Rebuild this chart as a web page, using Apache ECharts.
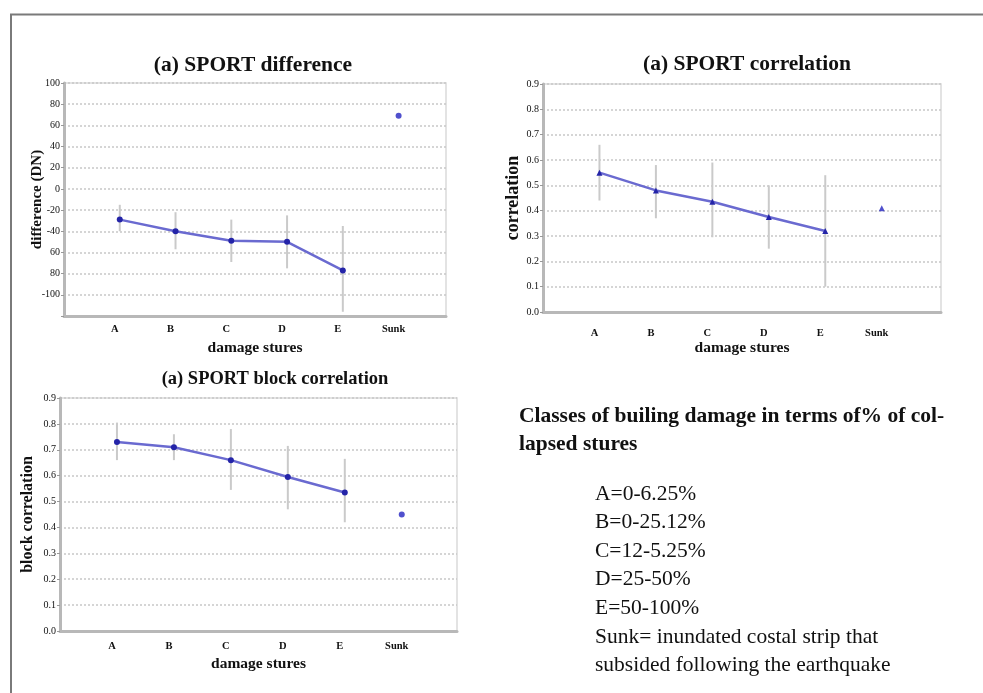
<!DOCTYPE html>
<html>
<head>
<meta charset="utf-8">
<script src="https://cdn.jsdelivr.net/npm/echarts@6/dist/echarts.min.js"></script>
<style>
  html, body { margin: 0; padding: 0; background: #fff; }
  #chart { width: 983px; height: 693px; }
</style>
</head>
<body>
<div id="chart"></div>
<script>
// categories on the x axis
var categories = ['A', 'B', 'C', 'D', 'E', 'Sunk'];

// (a) SPORT difference
var diffMean = [-29, -40, -49, -50, -77];
var diffLow = [-40, -57, -69, -75, -116];
var diffHigh = [-15, -22, -29, -25, -35];
var diffSunk = 69;
var diffTickLabels = ['100', '80', '60', '40', '20', '0', '-20', '-40', '60', '80', '-100'];

// (a) SPORT correlation
var corrMean = [0.55, 0.48, 0.435, 0.375, 0.32];
var corrLow = [0.44, 0.37, 0.295, 0.25, 0.10];
var corrHigh = [0.66, 0.58, 0.59, 0.50, 0.54];
var corrSunk = 0.41;

// (a) SPORT block correlation
var blockMean = [0.73, 0.71, 0.66, 0.595, 0.535];
var blockLow = [0.66, 0.66, 0.545, 0.47, 0.42];
var blockHigh = [0.805, 0.76, 0.78, 0.715, 0.665];
var blockSunk = 0.45;

var legendLines = [
  'A=0-6.25%',
  'B=0-25.12%',
  'C=12-5.25%',
  'D=25-50%',
  'E=50-100%',
  'Sunk= inundated costal strip that',
  'subsided following the earthquake'
];

var serif = '"Liberation Serif", "DejaVu Serif", serif';
var chart = echarts.init(document.getElementById('chart'));

function points(arr) {
  return arr.map(function (v, i) { return [i + 1, v]; });
}
function bars(low, high) {
  return low.map(function (v, i) { return [i + 1, v, high[i]]; });
}
function catLabel(v) {
  var i = Math.round(v);
  if (Math.abs(v - i) > 0.01 || i < 1 || i > categories.length) return '';
  return categories[i - 1];
}

function xAxis(idx, max, labelMargin, nameGap) {
  return {
    type: 'value', gridIndex: idx, min: 0, max: max, interval: 1,
    name: 'damage stures', nameLocation: 'middle', nameGap: nameGap,
    nameTextStyle: { fontFamily: serif, fontWeight: 'bold', fontSize: 15.5, color: '#111' },
    axisLine: { show: true, onZero: false, lineStyle: { color: '#b8b8b8', width: 3 } },
    axisTick: { show: false },
    splitLine: { show: false },
    axisLabel: {
      formatter: catLabel, fontFamily: serif, fontWeight: 'bold', fontSize: 10.5,
      color: '#111', margin: labelMargin, padding: [0, 10, 0, 0], showMaxLabel: false
    }
  };
}
function yAxis(idx, min, max, interval, name, nameSize, nameGap, fmt) {
  return {
    type: 'value', gridIndex: idx, min: min, max: max, interval: interval,
    name: name, nameLocation: 'middle', nameGap: nameGap, nameMoveOverlap: false,
    nameTextStyle: { fontFamily: serif, fontWeight: 'bold', fontSize: nameSize, color: '#111' },
    axisLine: { show: true, lineStyle: { color: '#b8b8b8', width: 3 } },
    axisTick: { show: true, length: 3, lineStyle: { color: '#999' } },
    splitLine: { show: true, lineStyle: { color: '#c8c8c8', width: 1.5, type: [2, 2] } },
    axisLabel: { formatter: fmt, fontFamily: serif, fontSize: 10, color: '#111', margin: 4 }
  };
}
function errSeries(idx, data) {
  return {
    type: 'custom', xAxisIndex: idx, yAxisIndex: idx, data: data,
    encode: { x: 0, y: [1, 2] }, silent: true, z: 1,
    renderItem: function (params, api) {
      var p1 = api.coord([api.value(0), api.value(1)]);
      var p2 = api.coord([api.value(0), api.value(2)]);
      return {
        type: 'line',
        shape: { x1: p1[0], y1: p1[1], x2: p2[0], y2: p2[1] },
        style: { stroke: '#cacaca', lineWidth: 2 }
      };
    }
  };
}
function lineSeries(idx, data, symbol) {
  return {
    type: 'line', xAxisIndex: idx, yAxisIndex: idx, data: data, z: 3,
    symbol: symbol, symbolSize: 6, showAllSymbol: true,
    lineStyle: { color: '#6a6ad0', width: 2.5 },
    itemStyle: { color: '#2424a8' }
  };
}
function sunkSeries(idx, v, symbol) {
  return {
    type: 'scatter', xAxisIndex: idx, yAxisIndex: idx, data: [[6, v]], z: 3,
    symbol: symbol, symbolSize: 6, itemStyle: { color: '#2424c0' }
  };
}

function titleStyle(size) {
  return { fontFamily: serif, fontWeight: 'bold', fontSize: size, color: '#111' };
}

var graphics = [
  { type: 'line', shape: { x1: 10, y1: 14.5, x2: 983, y2: 14.5 }, style: { stroke: '#7a7a7a', lineWidth: 2 } },
  { type: 'line', shape: { x1: 11, y1: 14, x2: 11, y2: 693 }, style: { stroke: '#7a7a7a', lineWidth: 2 } },
  { type: 'text', left: 519, top: 405, style: { text: 'Classes of builing damage in terms of% of col-', font: 'bold 21.5px ' + serif, fill: '#111' } },
  { type: 'text', left: 519, top: 433, style: { text: 'lapsed stures', font: 'bold 21.5px ' + serif, fill: '#111' } }
];
legendLines.forEach(function (t, i) {
  graphics.push({
    type: 'text', left: 595, top: 483 + i * 28.6,
    style: { text: t, font: '21.5px ' + serif, fill: '#111' }
  });
});

var option = {
  animation: false,
  backgroundColor: '#fff',
  title: [
    { text: '(a) SPORT difference', left: 248, top: 49, textAlign: 'center', textStyle: titleStyle(21.5) },
    { text: '(a) SPORT correlation', left: 742, top: 48, textAlign: 'center', textStyle: titleStyle(21.5) },
    { text: '(a) SPORT block correlation', left: 270, top: 365, textAlign: 'center', textStyle: titleStyle(18.5) }
  ],
  grid: [
    { left: 64, top: 83, width: 382, height: 233, show: true, borderColor: '#dadada', borderWidth: 1.5 },
    { left: 543, top: 84, width: 398, height: 228, show: true, borderColor: '#dadada', borderWidth: 1.5 },
    { left: 60, top: 398, width: 397, height: 233, show: true, borderColor: '#dadada', borderWidth: 1.5 }
  ],
  xAxis: [xAxis(0, 6.85, 8, 24), xAxis(1, 7.05, 16, 28), xAxis(2, 6.97, 10, 25)],
  yAxis: [
    yAxis(0, -120, 100, 20, 'difference (DN)', 15, 19, function (v) {
      var i = Math.round((100 - v) / 20);
      return diffTickLabels[i] || '';
    }),
    yAxis(1, 0, 0.9, 0.1, 'correlation', 18, 21, function (v) { return v.toFixed(1); }),
    yAxis(2, 0, 0.9, 0.1, 'block correlation', 16, 24, function (v) { return v.toFixed(1); })
  ],
  graphic: graphics,
  series: [
    errSeries(0, bars(diffLow, diffHigh)),
    lineSeries(0, points(diffMean), 'circle'),
    sunkSeries(0, diffSunk, 'circle'),
    errSeries(1, bars(corrLow, corrHigh)),
    lineSeries(1, points(corrMean), 'triangle'),
    sunkSeries(1, corrSunk, 'triangle'),
    errSeries(2, bars(blockLow, blockHigh)),
    lineSeries(2, points(blockMean), 'circle'),
    sunkSeries(2, blockSunk, 'circle')
  ]
};

chart.setOption(option);
</script>
</body>
</html>
